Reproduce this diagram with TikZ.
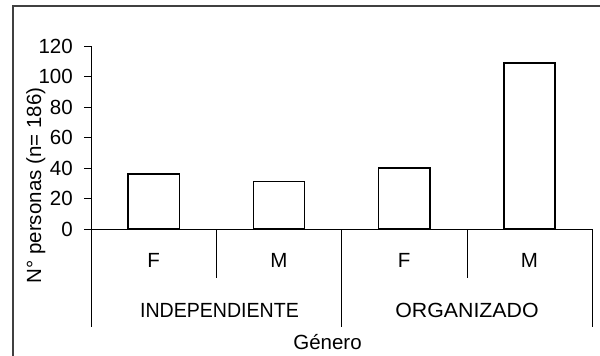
\documentclass[tikz,border=0pt]{standalone}
\usepackage{fontspec}
\setmainfont{Liberation Sans}
\begin{document}
\begin{tikzpicture}[x=1pt,y=-1pt,
  barbox/.style={draw=black,line width=1.5pt,fill=white},
  axisline/.style={draw=black,line width=0.9pt},
  frameline/.style={draw=black!75,line width=1.6pt},
  lbl/.style={font=\fontsize{20.5}{24}\selectfont,inner sep=0pt,text=black}]
\useasboundingbox (0,0) rectangle (600,356);
\fill[white] (0,0) rectangle (600,356);
% frame (cropped)
\draw[frameline] (13,356) -- (13,6) -- (600,6);
% y ticks and labels
\foreach \v in {0,20,...,120}{
  \draw[axisline] (84,{229-\v*1.525}) -- (91,{229-\v*1.525});
  \node[lbl,anchor=base east] (t\v) at (73,{229-\v*1.525+7}) {\v};
}
% bars
\draw[barbox] (128,229) rectangle (179.5,{229-36*1.525});
\draw[barbox] (253.5,229) rectangle (304.5,{229-31*1.525});
\draw[barbox] (378.5,229) rectangle (430,{229-40*1.525});
\draw[barbox] (504,229) rectangle (555,{229-109*1.525});
% axes
\draw[axisline] (91,46) -- (91,327);
\draw[axisline] (84,229) -- (592,229);
% category separators
\draw[axisline] (216.5,229) -- (216.5,278);
\draw[axisline] (341.7,229) -- (341.7,327);
\draw[axisline] (467,229) -- (467,278);
\draw[axisline] (592,229) -- (592,327);
% category labels
\node[lbl,anchor=base] (f1) at (153.6,267) {F};
\node[lbl,anchor=base] (m1) at (278.9,267) {M};
\node[lbl,anchor=base] (f2) at (404.1,267) {F};
\node[lbl,anchor=base] (m2) at (529.4,267) {M};
\node[lbl,anchor=base] (ind) at (219.5,317) {\scalebox{0.955}[1]{INDEPENDIENTE}};
\node[lbl,anchor=base] (org) at (467,317) {\scalebox{1.04}[1]{ORGANIZADO}};
\node[lbl,anchor=base] (gen) at (327.5,349) {Género};
\node[lbl,anchor=base,rotate=90] (ylab) at (41,185.5) {N° personas (n= 186)};
\end{tikzpicture}
\end{document}
